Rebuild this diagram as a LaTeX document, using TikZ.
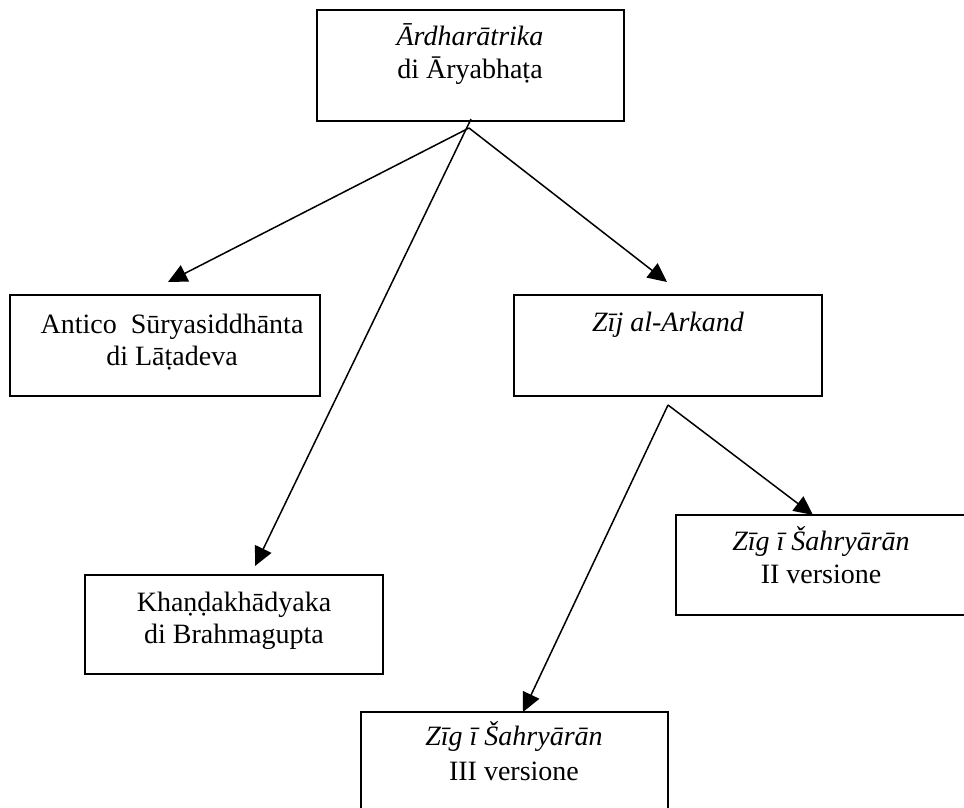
\documentclass[tikz,border=0pt]{standalone}
\usepackage{fontspec}
\setmainfont{Liberation Serif}
\usetikzlibrary{arrows.meta}
\begin{document}
\begin{tikzpicture}[x=1pt,y=-1pt,
  box/.style={draw, line width=1.8pt, inner sep=0pt},
  txt/.style={anchor=base, inner sep=0pt, font=\fontsize{28}{34}\selectfont},
  link/.style={line width=1.5pt, -{Triangle[length=19pt,width=18pt]}}]
\useasboundingbox (0,0) rectangle (964,807);
\fill[white] (0,0) rectangle (964,807);

% boxes
\node[box, minimum width=307pt, minimum height=111pt] (ard) at (470.5,65.5) {};
\node[box, minimum width=310pt, minimum height=101pt] (sur) at (165,345.5) {};
\node[box, minimum width=308pt, minimum height=101pt] (zij) at (668,345.5) {};
\node[box, minimum width=298pt, minimum height=99pt] (kha) at (234,624.5) {};
\node[box, minimum width=314pt, minimum height=100pt] (sh2) at (833,565) {};
\node[box, minimum width=307pt, minimum height=128pt] (sh3) at (514.5,776) {};

% texts
\node[txt] (ard1) at (470,45) {\itshape Ārdharātrika};
\node[txt] (ard2) at (470,78) {di Āryabhaṭa};
\node[txt] (sur1) at (172,333) {Antico\ \ Sūryasiddhānta};
\node[txt] (sur2) at (172,365) {di Lāṭadeva};
\node[txt] (zij1) at (668,331) {\itshape Zīj al-Arkand};
\node[txt] (kha1) at (234,611) {Khaṇḍakhādyaka};
\node[txt] (kha2) at (234,643) {di Brahmagupta};
\node[txt] (sh21) at (821,550) {\itshape Zīg ī Šahryārān};
\node[txt] (sh22) at (821,583) {II versione};
\node[txt] (sh31) at (514,745) {\itshape Zīg ī Šahryārān};
\node[txt] (sh32) at (514,780) {III versione};

% connector ends
\coordinate (s1) at (469,128);
\coordinate (s2) at (471,119);
\coordinate (s4) at (668,405);
\coordinate (t1) at (168,282);
\coordinate (t2) at (255,566);
\coordinate (t3) at (667,282);
\coordinate (t5) at (813,515);
\coordinate (t6) at (523,712);

\draw[link] (s1) -- (t1);
\draw[link] (s1) -- (t3);
\draw[link] (s2) -- (t2);
\draw[link] (s4) -- (t5);
\draw[link] (s4) -- (t6);
\end{tikzpicture}
\end{document}
